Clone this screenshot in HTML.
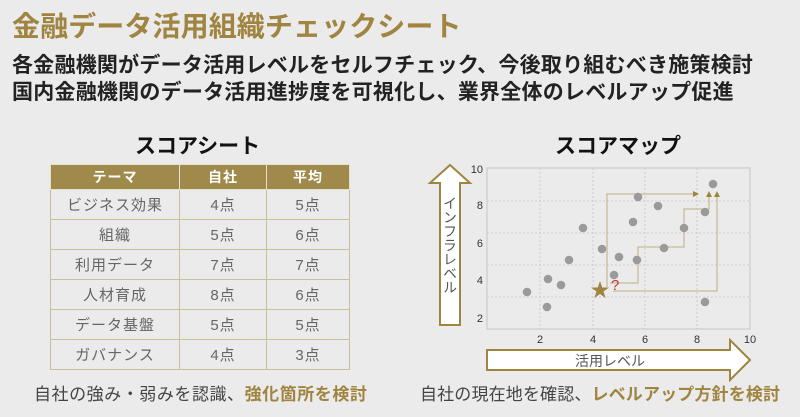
<!DOCTYPE html>
<html><head><meta charset="utf-8"><style>
body{margin:0;width:800px;height:417px;background:#ebebeb;overflow:hidden;position:relative;font-family:"Liberation Sans","Noto Sans CJK JP",sans-serif}
.a{position:absolute;white-space:nowrap}
table{position:absolute;left:50px;top:164px;border-collapse:collapse;width:300px}
td,th{border:1.5px solid #cbbf98;text-align:center;font-size:15px;color:#666;height:29px;padding:0;letter-spacing:1px}
th{background:#a08a4b;color:#fff;height:24px;font-size:14px;border-color:#e6e0cc}
</style></head><body>
<div class="a" style="left:12px;top:5px;font-size:28px;color:#a08540;font-weight:bold;letter-spacing:0.1px">金融データ活用組織チェックシート</div>
<div class="a" style="left:12px;top:49px;font-size:21px;color:#222;font-weight:bold;letter-spacing:0.23px">各金融機関がデータ活用レベルをセルフチェック、今後取り組むべき施策検討</div>
<div class="a" style="left:12px;top:76px;font-size:21px;color:#222;font-weight:bold;letter-spacing:0.23px">国内金融機関のデータ活用進捗度を可視化し、業界全体のレベルアップ促進</div>
<div class="a" style="left:135px;top:130px;font-size:21px;color:#111;font-weight:bold">スコアシート</div>
<table>
<tr><th style="width:128px">テーマ</th><th style="width:86px">自社</th><th>平均</th></tr>
<tr><td>ビジネス効果</td><td>4点</td><td>5点</td></tr>
<tr><td>組織</td><td>5点</td><td>6点</td></tr>
<tr><td>利用データ</td><td>7点</td><td>7点</td></tr>
<tr><td>人材育成</td><td>8点</td><td>6点</td></tr>
<tr><td>データ基盤</td><td>5点</td><td>5点</td></tr>
<tr><td>ガバナンス</td><td>4点</td><td>3点</td></tr>
</table>
<div class="a" style="left:34px;top:380px;font-size:17px;color:#444;letter-spacing:0.55px">自社の強み・弱みを認識、<b style="color:#a08540">強化箇所を検討</b></div>
<div class="a" style="left:555px;top:130px;font-size:21px;color:#111;font-weight:bold">スコアマップ</div>
<div class="a" style="left:420px;top:380px;font-size:17px;color:#444;letter-spacing:0.15px">自社の現在地を確認、<b style="color:#a08540">レベルアップ方針を検討</b></div>
<svg class="a" style="left:0;top:0" width="800" height="417">
<g stroke="#ccc" stroke-dasharray="2,2" stroke-width="1">
<line x1="540" y1="168" x2="540" y2="329"/><line x1="593" y1="168" x2="593" y2="329"/><line x1="645" y1="168" x2="645" y2="329"/><line x1="697" y1="168" x2="697" y2="329"/>
<line x1="487" y1="201" x2="750" y2="201"/><line x1="487" y1="233" x2="750" y2="233"/><line x1="487" y1="265" x2="750" y2="265"/><line x1="487" y1="297" x2="750" y2="297"/>
</g>
<rect x="487" y="168" width="263" height="161" fill="none" stroke="#ccc" stroke-width="1.2"/>
<g font-size="11" fill="#333" font-family="Liberation Sans,sans-serif">
<text x="540" y="343" text-anchor="middle">2</text><text x="593" y="343" text-anchor="middle">4</text><text x="645" y="343" text-anchor="middle">6</text><text x="697" y="343" text-anchor="middle">8</text><text x="750" y="343" text-anchor="middle">10</text>
<text x="483" y="173" text-anchor="end">10</text><text x="483" y="209" text-anchor="end">8</text><text x="483" y="247" text-anchor="end">6</text><text x="483" y="284" text-anchor="end">4</text><text x="483" y="322" text-anchor="end">2</text>
</g>
<g fill="none" stroke="#c8bc98" stroke-width="1.3">
<polyline points="607,287 607,194 695,194"/>
<polyline points="610,283 638,283 638,247 684,247 684,209 709,209 709,197"/>
<polyline points="613,291 717,291 717,197"/>
</g>
<g fill="#a08540"><path d="M699,194 l-6,-3 v6z"/><path d="M709,191 l-3,6 h6z"/><path d="M717,191 l-3,6 h6z"/></g>
<g fill="#9a9a9a">
<circle cx="527" cy="292" r="4.3"/><circle cx="547" cy="307" r="4.3"/><circle cx="548" cy="279" r="4.3"/><circle cx="561" cy="285" r="4.3"/><circle cx="569" cy="260" r="4.3"/><circle cx="583" cy="228" r="4.3"/><circle cx="602" cy="249" r="4.3"/><circle cx="614" cy="275" r="4.3"/><circle cx="619" cy="257" r="4.3"/><circle cx="637" cy="260" r="4.3"/><circle cx="633" cy="222" r="4.3"/><circle cx="638" cy="197" r="4.3"/><circle cx="658" cy="206" r="4.3"/><circle cx="664" cy="248" r="4.3"/><circle cx="684" cy="228" r="4.3"/><circle cx="705" cy="212" r="4.3"/><circle cx="713" cy="184" r="4.3"/><circle cx="705" cy="302" r="4.3"/>
</g>
<polygon points="600,281 602.2,287.5 609,287.5 603.5,291.5 605.6,298 600,294 594.4,298 596.5,291.5 591,287.5 597.8,287.5" fill="#a08540"/>
<text x="611" y="290" font-size="15" fill="#d03030" font-family="Liberation Sans,sans-serif">?</text>
<path d="M440,325 V183 H430 L450,165 L470,183 H460 V325 Z" fill="#fff" stroke="#a08540" stroke-width="2"/>
<path d="M487,350 H730 V340 L750,360 L730,380 V370 H487 Z" fill="#fff" stroke="#a08540" stroke-width="2"/>
<text x="610" y="366" font-size="14" fill="#555" text-anchor="middle" font-family="Liberation Sans,Noto Sans CJK JP,sans-serif">活用レベル</text>
<text x="450" y="245" font-size="14" fill="#555" text-anchor="middle" style="writing-mode:vertical-rl" font-family="Noto Sans CJK JP,sans-serif">インフラレベル</text>
</svg>
</body></html>
